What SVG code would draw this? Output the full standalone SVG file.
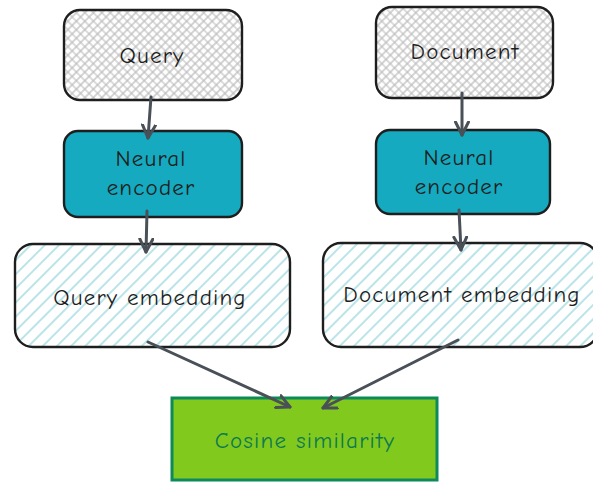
<svg xmlns="http://www.w3.org/2000/svg" width="593" height="483" viewBox="0 0 593 483">
<defs>
<pattern id="cross" width="6" height="6" patternUnits="userSpaceOnUse" patternTransform="rotate(45)">
<path d="M0 3H6M3 0V6" stroke="#b8b8b8" stroke-width="1.2"/>
</pattern>
<pattern id="hatch" width="10" height="10" patternUnits="userSpaceOnUse" patternTransform="rotate(-45)">
<path d="M0 5H10" stroke="#a9dde3" stroke-width="1.6"/>
</pattern>
<marker id="ah" viewBox="0 0 16 16" refX="14" refY="8" markerWidth="16" markerHeight="16" markerUnits="userSpaceOnUse" orient="auto">
<path d="M1 1.5L14 8L1 14.5" fill="none" stroke="#495057" stroke-width="3" stroke-linecap="round" stroke-linejoin="round"/>
</marker>
</defs>
<style>
.box{stroke:#1e1e1e;stroke-width:2.4}
.t{font-family:"Comic Neue","Lato","Liberation Sans",sans-serif;font-size:23px;letter-spacing:1.2px;fill:#1e1e1e;text-anchor:middle;dominant-baseline:central}
.conn{stroke:#495057;stroke-width:3;fill:none;stroke-linecap:round;marker-end:url(#ah)}
</style>
<rect width="593" height="483" fill="#ffffff"/>
<g id="query">
<rect class="box" x="64" y="10" width="178" height="90" rx="16" fill="url(#cross)"/>
<text class="t" x="152" y="55">Query</text>
</g>
<g id="document">
<rect class="box" x="376" y="7" width="177" height="91" rx="16" fill="url(#cross)"/>
<text class="t" x="465" y="51">Document</text>
</g>
<g id="encoder-left">
<rect class="box" x="64" y="131" width="178" height="86" rx="14" fill="#15aabf"/>
<text class="t" x="151" y="158">Neural</text>
<text class="t" x="151" y="187">encoder</text>
</g>
<g id="encoder-right">
<rect class="box" x="376" y="130" width="174" height="84" rx="14" fill="#15aabf"/>
<text class="t" x="459" y="157">Neural</text>
<text class="t" x="459" y="186">encoder</text>
</g>
<g id="query-embedding">
<rect class="box" x="15" y="244" width="275" height="103" rx="18" fill="url(#hatch)" stroke-width="3"/>
<text class="t" x="150" y="297">Query embedding</text>
</g>
<g id="document-embedding">
<rect class="box" x="323" y="243" width="275" height="104" rx="18" fill="url(#hatch)" stroke-width="3"/>
<text class="t" x="462" y="294">Document embedding</text>
</g>
<g id="cosine">
<rect x="172" y="398" width="265" height="82" fill="#82c91e" stroke="#0c8a5a" stroke-width="3"/>
<text class="t" x="305" y="440" style="fill:#0c7a50">Cosine similarity</text>
</g>
<g id="connectors">
<path class="conn" d="M151 97L148 138"/>
<path class="conn" d="M147 211L146 252"/>
<path class="conn" d="M462 93L462 135"/>
<path class="conn" d="M459 210L461 250"/>
<path class="conn" d="M148 342L290 407"/>
<path class="conn" d="M458 340L323 408"/>
</g>
</svg>
